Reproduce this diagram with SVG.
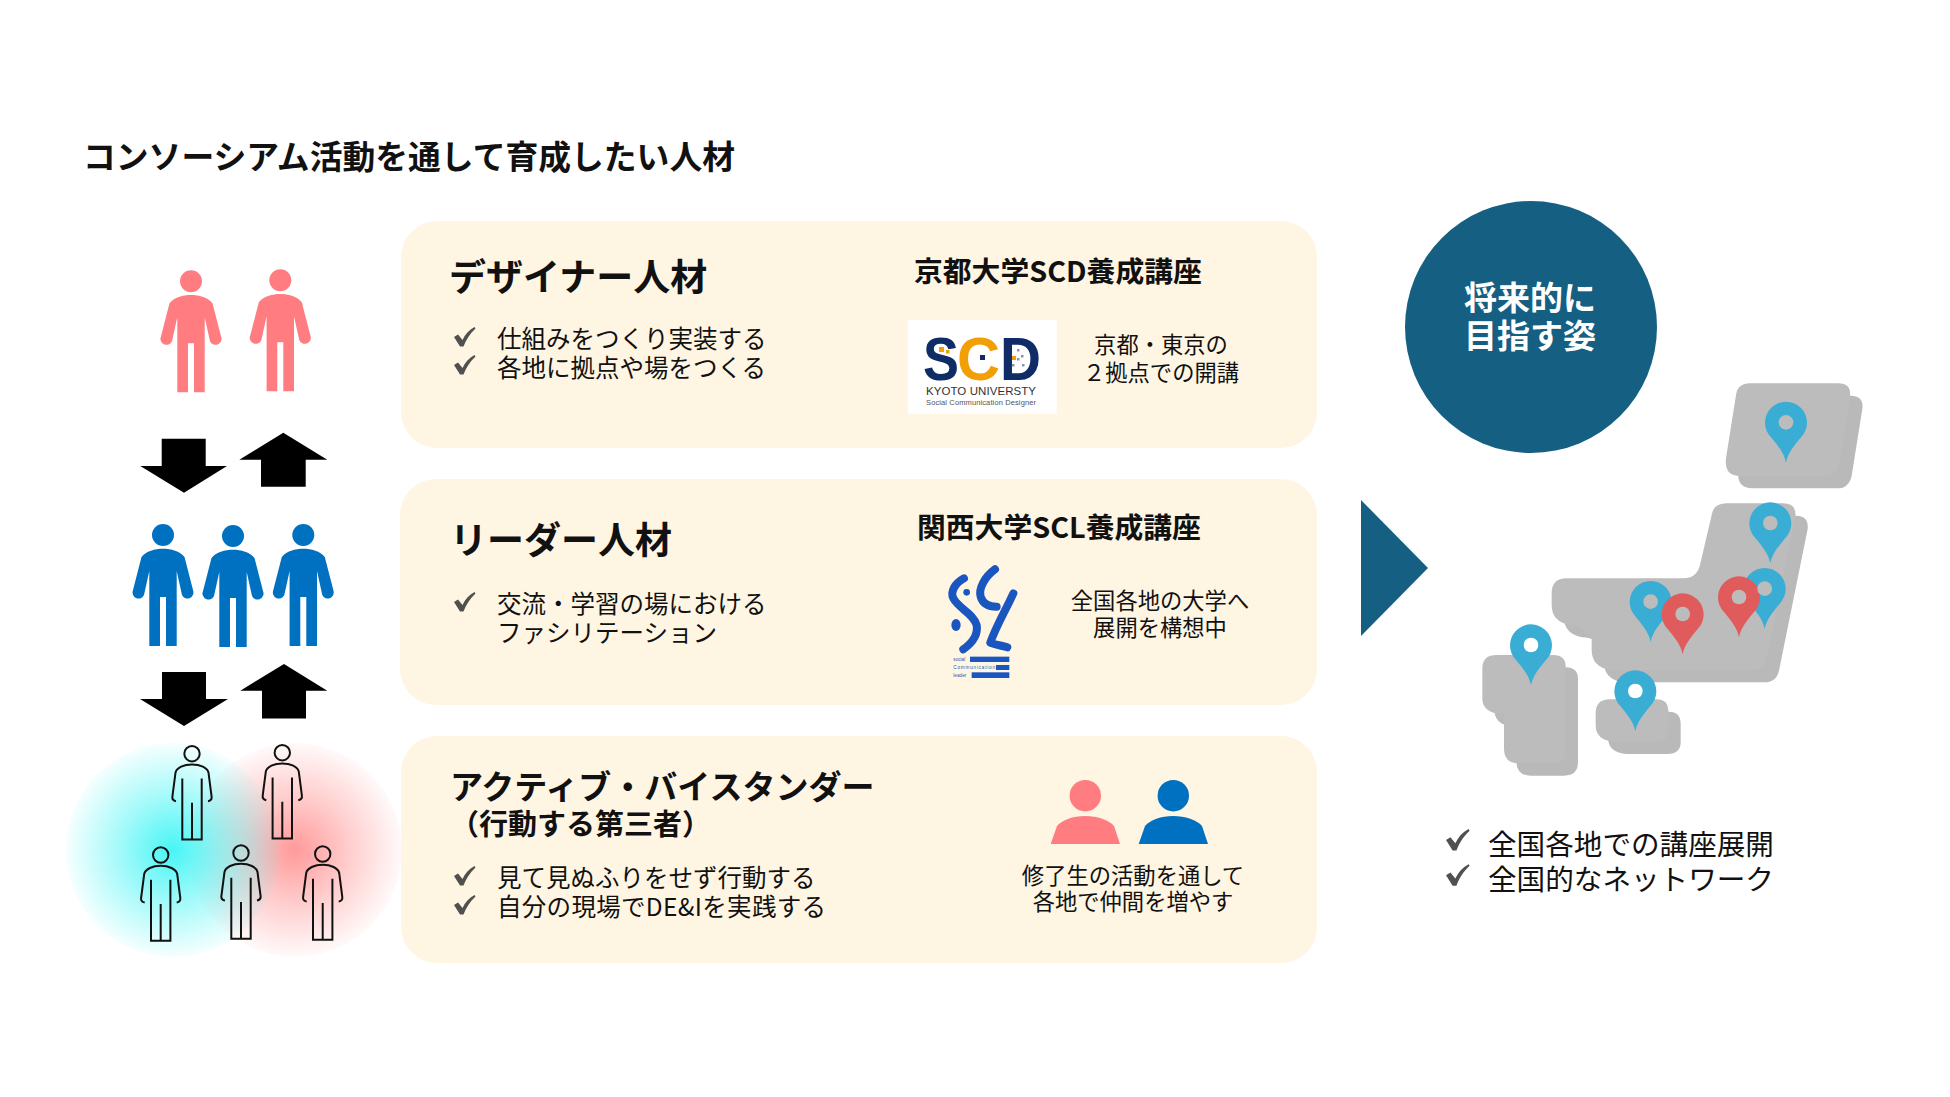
<svg xmlns="http://www.w3.org/2000/svg" width="1950" height="1097" viewBox="0 0 1950 1097">
<style>
text{font-family:"Noto Sans CJK JP","Noto Sans",sans-serif;fill:#111}
.b{font-weight:700}
.t24{font-size:24.500px}
.t22{font-size:22.300px}
.t28{font-size:28.600px}
.m{text-anchor:middle}
.panel{fill:#FFF5E3}
.out{fill:none;stroke:#111;stroke-width:2}
.lat{font-family:"Liberation Sans",sans-serif}
</style>
<defs>
<path id="man" d="M0,13.7C-8,13.7-17,16-21.5,22L-30,55A5.7,5.7 0 0 0-19,60L-13.7,36V111H-3V62H3V111H13.7V36L19,60A5.7,5.7 0 0 0 30,55L21.5,22C17,16 8,13.7 0,13.7Z"/>
<g id="manHead"><circle r="11"/><use href="#man"/></g>
<g id="outline" class="out"><circle r="7.7"/><path d="M-16,47.5C-19,47-20,46-19.6,43L-16.5,19C-15.5,14-8,10.7 0,10.7C8,10.7 15.5,14 16.5,19L19.6,43C20,46 19,47 16,47.5M-9.7,24.7V85.7H9.7V24.7M0,49V85.7"/></g>
<path id="chk" fill="#505050" d="M0,10L4,7.500L8.500,13C11,7.500 15,3 20.500,0L21.500,1.500C15.500,7 12,13 9.500,19.500H6Z"/>
<path id="pin" d="M0,121C-6,90-25,70-45,45A63,63 0 1 1 45,45C25,70 6,90 0,121Z"/>
<radialGradient id="cy"><stop offset="0" stop-color="#48F5F5"/><stop offset=".5" stop-color="#48F5F5" stop-opacity=".5"/><stop offset="1" stop-color="#48F5F5" stop-opacity=".05"/></radialGradient>
<radialGradient id="rd"><stop offset="0" stop-color="#FF9A9A"/><stop offset=".5" stop-color="#FF9A9A" stop-opacity=".5"/><stop offset="1" stop-color="#FF9A9A" stop-opacity=".05"/></radialGradient>
</defs>
<rect width="1950" height="1097" fill="#fff"/>
<text id="title" class="b" x="83" y="169" font-size="32.800">コンソーシアム活動を通して育成したい人材</text>

<g id="people-pink" fill="#FF7C80">
<use href="#manHead" x="191" y="281.3"/><use href="#manHead" x="280.3" y="280.3"/>
</g>
<g id="people-blue" fill="#0070C0">
<use href="#manHead" x="163" y="535"/><use href="#manHead" x="233" y="536"/><use href="#manHead" x="303.3" y="535"/>
</g>
<g id="arrows" fill="#000">
<path d="M161.7,438.7H205.7V466H227L184,492.7L140.3,466H161.7Z"/>
<path d="M283.3,432.7L327.3,459.7H305.7V486.7H261V459.7H239.3Z"/>
<path d="M162,672H206V699H228L184,726L140,699H162Z"/>
<path d="M284,664L327.3,690.7H306V718.5H262V690.7H240.3Z"/>
</g>
<g id="bystanders">
<circle cx="295" cy="850" r="107" fill="url(#rd)"/>
<circle cx="173" cy="850" r="107" fill="url(#cy)"/>
<use href="#outline" x="192" y="753.7"/><use href="#outline" x="282.3" y="752.7"/><use href="#outline" x="160.7" y="855"/><use href="#outline" x="241" y="853"/><use href="#outline" x="322.7" y="854"/>
</g>

<g id="panel-designer">
<rect class="panel" x="401" y="221" width="916" height="227" rx="36"/>
<text class="b" x="449" y="291" font-size="37">デザイナー人材</text>
<use href="#chk" x="454" y="327"/><use href="#chk" x="454" y="355"/>
<text class="t24" x="497" y="348">仕組みをつくり実装する</text>
<text class="t24" x="497" y="377">各地に拠点や場をつくる</text>
<text class="b" x="914" y="282" font-size="28.800">京都大学SCD養成講座</text>
<g id="logo-scd">
<rect x="908" y="320" width="148.700" height="93.700" fill="#fff"/>
<g font-size="62" font-weight="700">
<text x="923" y="380" textLength="36" lengthAdjust="spacingAndGlyphs" class="lat" style="fill:#0F2C67">S</text>
<text x="957" y="380" textLength="43" lengthAdjust="spacingAndGlyphs" class="lat" style="fill:#F29F05">C</text>
<text x="1000" y="380" textLength="41" lengthAdjust="spacingAndGlyphs" class="lat" style="fill:#0F2C67">D</text>
</g>
<text x="926" y="395" font-size="11.500" textLength="110" class="lat" style="fill:#333">KYOTO UNIVERSTY</text>
<text x="926" y="405" font-size="7.500" textLength="110" class="lat" style="fill:#555">Social Communication Designer</text>
<g fill="#F29F05"><rect x="939" y="347" width="5" height="5"/><rect x="946" y="350" width="3.500" height="3.500"/><rect x="1012" y="356" width="4" height="4"/></g>
<rect x="980" y="355" width="5" height="5" fill="#0F2C67"/>
<g fill="#8b93b5"><rect x="1017" y="349" width="2.500" height="2.500"/><rect x="1021" y="355" width="2.500" height="2.500"/><rect x="1017" y="358" width="2.500" height="2.500"/><rect x="1012" y="364" width="2.500" height="2.500"/><rect x="1022" y="364" width="2.500" height="2.500"/></g>
</g>
<text class="t22 m" x="1161" y="353">京都・東京の</text>
<text class="t22 m" x="1161" y="381">２拠点での開講</text>
</g>

<g id="panel-leader">
<rect class="panel" x="400" y="479" width="917" height="226" rx="36"/>
<text class="b" x="450" y="554" font-size="37">リーダー人材</text>
<use href="#chk" x="454" y="592"/>
<text class="t24" x="497" y="613">交流・学習の場における</text>
<text class="t24" x="497" y="642">ファシリテーション</text>
<text class="b" x="917" y="538" font-size="28.800">関西大学SCL養成講座</text>
<g id="logo-scl" transform="translate(910,550) scale(.3333)">
<g fill="none" stroke="#1A56C0" stroke-width="24" stroke-linecap="round" stroke-linejoin="round">
<path d="M162,85C135,100 120,125 130,145C145,175 190,190 200,225C205,255 185,280 160,298"/>
<path d="M255,58C225,80 205,115 212,140C220,165 240,170 260,170"/>
<path d="M310,130C290,175 260,225 241,278C260,285 280,288 292,292"/>
</g>
<g fill="#1A56C0">
<circle cx="170" cy="127" r="10"/><ellipse cx="138" cy="225" rx="14" ry="18"/>
<rect x="180" y="320" width="118" height="16"/><rect x="258" y="345" width="40" height="15"/><rect x="185" y="367" width="113" height="17"/>
</g>
<text x="130" y="334" font-size="14" class="lat" style="fill:#1A56C0">social</text>
<text x="130" y="357" font-size="14" textLength="125" class="lat" style="fill:#1A56C0">Communication</text>
<text x="130" y="380" font-size="14" class="lat" style="fill:#1A56C0">leader</text>
</g>
<text class="t22 m" x="1160" y="609">全国各地の大学へ</text>
<text class="t22 m" x="1160" y="636">展開を構想中</text>
</g>

<g id="panel-bystander">
<rect class="panel" x="401" y="736" width="916" height="227" rx="36"/>
<text class="b" x="450" y="799" font-size="33">アクティブ・バイスタンダー</text>
<text class="b" x="450" y="835" font-size="29">（行動する第三者）</text>
<use href="#chk" x="454" y="866"/><use href="#chk" x="454" y="895"/>
<text class="t24" x="497" y="887">見て見ぬふりをせず行動する</text>
<text class="t24" x="497" y="916" textLength="329">自分の現場でDE&amp;Iを実践する</text>
<g fill="#FF7C80"><circle cx="1085.300" cy="795.700" r="15.700"/><path d="M1050.700,844L1057,826C1062,820 1073,816 1085.300,816C1097,816 1109,820 1114,826L1120,844Z"/></g>
<g fill="#0070C0"><circle cx="1173.300" cy="795.700" r="15.700"/><path d="M1138.700,844L1145,826C1150,820 1161,816 1173.300,816C1185,816 1197,820 1202,826L1208,844Z"/></g>
<text class="t22 m" x="1133" y="884">修了生の活動を通して</text>
<text class="t22 m" x="1133" y="910">各地で仲間を増やす</text>
</g>

<path id="big-arrow" d="M1361,500L1428,568L1361,636Z" fill="#156082"/>
<g id="goal">
<circle cx="1531" cy="327" r="126" fill="#156082"/>
<text class="b m" x="1530" y="310" font-size="33" style="fill:#fff">将来的に</text>
<text class="b m" x="1530" y="348" font-size="33" style="fill:#fff">目指す姿</text>
</g>
<g id="map" transform="translate(1450,370) scale(.33333)">
<g fill="#B9B9B9" transform="translate(37,37)">
<path id="hk" d="M900,40H1165Q1205,40 1200,80L1168,280Q1160,318 1125,318H870Q822,318 828,265L858,75Q863,40 900,40Z"/>
<path id="hs" d="M830,400H1000Q1040,400 1036,440L950,865Q942,900 905,900H480Q425,890 425,840V805Q400,765 360,765Q305,755 305,705V670Q305,625 350,625H700Q740,625 750,585L785,435Q790,400 830,400Z"/>
<path id="ky" d="M140,855H310Q347,855 347,890V1140Q347,1180 305,1180H205Q162,1180 162,1135V1030H135Q97,1020 97,985V895Q97,855 140,855Z"/>
<path id="sk" d="M480,988H620Q655,988 655,1025V1080Q655,1115 615,1115H490Q437,1110 437,1065V1030Q437,988 480,988Z"/>
</g>
<g fill="#BCBCBC"><use href="#hk"/><use href="#hs"/><use href="#ky"/><use href="#sk"/></g>
<g fill="#3AADD5"><use href="#pin" x="1008" y="157"/><use href="#pin" x="961" y="459"/><use href="#pin" x="944" y="656"/><use href="#pin" x="602" y="695"/><use href="#pin" x="243" y="825"/><use href="#pin" x="556" y="963"/></g>
<g fill="#E05B5B"><use href="#pin" x="698" y="732"/><use href="#pin" x="867" y="681"/></g>
<g fill="#BCBCBC"><circle cx="1008" cy="157" r="22"/><circle cx="961" cy="459" r="22"/><circle cx="944" cy="656" r="22"/><circle cx="602" cy="695" r="22"/><circle cx="698" cy="732" r="22"/><circle cx="867" cy="681" r="22"/></g>
<g fill="#fff"><circle cx="243" cy="825" r="22"/><circle cx="556" cy="963" r="22"/></g>
</g>
<g id="goal-list" transform="translate(1446,829) scale(1.1)">
<use href="#chk"/><use href="#chk" y="32"/>
</g>
<g id="goal-text">
<text class="t28" x="1488" y="855">全国各地での講座展開</text>
<text class="t28" x="1488" y="890">全国的なネットワーク</text>
</g>
</svg>
